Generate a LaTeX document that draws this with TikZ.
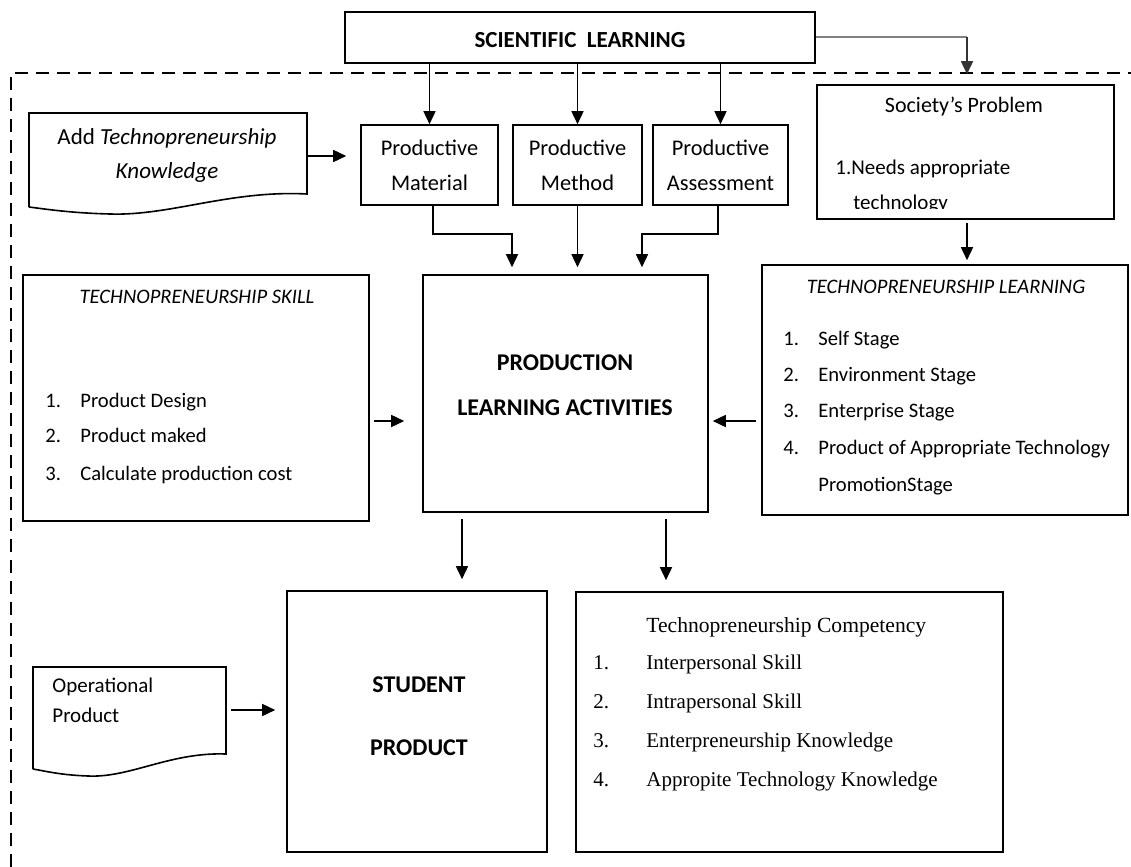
\documentclass[tikz,border=0pt]{standalone}
\usepackage{fontspec}
\setmainfont{Carlito}
\newfontfamily\serifont{Liberation Serif}
\usetikzlibrary{arrows.meta,fit}
\begin{document}
\begin{tikzpicture}[x=0.5pt,y=-0.5pt,
  box/.style={draw,line width=0.8pt,inner sep=0pt},
  arr/.style={-{Triangle[length=6.5pt,width=6pt]},line width=0.8pt},
  lbl/.style={inner sep=0pt},
  itm/.style={inner sep=0pt,anchor=mid west,font=\fontsize{10.3}{12}\selectfont},
  citm/.style={inner sep=0pt,anchor=mid west,font=\serifont\fontsize{10.5}{12}\selectfont},
  head/.style={inner sep=0pt,font=\fontsize{11.2}{17.5}\selectfont,align=center},
  big/.style={inner sep=0pt,font=\bfseries\fontsize{12}{14}\selectfont}]
\useasboundingbox (0,0) rectangle (1131,867);
% dashed frame
\draw[line width=0.8pt,dash pattern=on 6.5pt off 4pt] (11,867) -- (11,73) -- (1131,73);
% scientific learning
\node[box,fit={(345,12)(815,63)}] (sl) {};
\node[big,font=\bfseries\fontsize{11.5}{13}\selectfont] (slt) at (580,40) {SCIENTIFIC\ \ LEARNING};
% productive boxes
\node[box,fit={(361,125)(498,205)}] (mat) {};
\node[head] (matt) at (mat.center) {Productive\\Material};
\node[box,fit={(513,125)(642,205)}] (met) {};
\node[head] (mett) at (met.center) {Productive\\Method};
\node[box,fit={(653,125)(788,205)}] (ass) {};
\node[head] (asst) at (ass.center) {Productive\\Assessment};
% add knowledge document
\draw[line width=0.8pt] (29,207) -- (29,113) -- (307,113) -- (307,194)
  .. controls (230,190) and (170,216) .. (110,214)
  .. controls (70,213) and (45,209) .. (29,207);
\node[fit={(29,113)(307,207)},inner sep=0pt] (add) {};
\node[head,font=\fontsize{11.5}{17}\selectfont] (addt) at (167,155) {Add \textit{Technopreneurship}\\\textit{Knowledge}};
% society
\node[box,fit={(817,85)(1114,219)}] (soc) {};
\node[lbl,font=\fontsize{11}{12}\selectfont] (soct) at (964,107) {Society’s Problem};
\node[itm,font=\fontsize{10.5}{12}\selectfont] (soc1) at (835,170) {1.Needs appropriate};
\begin{scope}
\clip (817,85) rectangle (1114,208);
\node[itm,font=\fontsize{10.5}{12}\selectfont] (soc2) at (853,205) {technology};
\end{scope}
% production learning activities
\node[box,fit={(423,275)(708,512)}] (pla) {};
\node[big] (pla1) at (565,363) {PRODUCTION};
\node[big] (pla2) at (565,408) {LEARNING ACTIVITIES};
% skill
\node[box,fit={(23,275)(369,521)}] (sk) {};
\node[lbl,font=\itshape\fontsize{10.3}{12}\selectfont] (skt) at (197,297) {TECHNOPRENEURSHIP SKILL};
\foreach \n/\t/\y in {1/Product Design/403,2/Product maked/438,3/Calculate production cost/476}{
  \node[itm] (skn\n) at (45,\y) {\n.};
  \node[itm] (ski\n) at (80,\y) {\t};
}
% technopreneurship learning
\node[box,fit={(762,265)(1128,515)}] (tl) {};
\node[lbl,font=\itshape\fontsize{10.3}{12}\selectfont] (tlt) at (946,287) {TECHNOPRENEURSHIP LEARNING};
\foreach \n/\t/\y in {1/Self Stage/341,2/Environment Stage/377,3/Enterprise Stage/413,4/Product of Appropriate Technology/450}{
  \node[itm] (tln\n) at (783,\y) {\n.};
  \node[itm] (tli\n) at (818,\y) {\t};
}
\node[itm] (tli5) at (818,487) {PromotionStage};
% student product
\node[box,fit={(287,591)(547,852)}] (sp) {};
\node[big] (sp1) at (419,685) {STUDENT};
\node[big] (sp2) at (419,748) {PRODUCT};
% competency
\node[box,fit={(576,592)(1003,852)}] (cp) {};
\node[citm,font=\serifont\fontsize{10.8}{12}\selectfont] (cpt) at (646,628) {Technopreneurship Competency};
\foreach \n/\t/\y in {1/Interpersonal Skill/665,2/Intrapersonal Skill/704,3/Enterpreneurship Knowledge/743,4/Appropite Technology Knowledge/782}{
  \node[citm] (cpn\n) at (593,\y) {\n.};
  \node[citm] (cpi\n) at (646,\y) {\t};
}
% operational product document
\draw[line width=0.8pt] (33,769) -- (33,667) -- (226,667) -- (226,754)
  .. controls (170,752) and (130,778) .. (88,776)
  .. controls (60,775) and (45,771) .. (33,769);
\node[fit={(33,667)(226,776)},inner sep=0pt] (op) {};
\node[itm,font=\fontsize{10.5}{12}\selectfont] (op1) at (52,688) {Operational};
\node[itm,font=\fontsize{10.5}{12}\selectfont] (op2) at (52,718) {Product};
% connectors
\draw[arr] (sl.south -| mat.north) -- (mat.north);
\draw[arr] (sl.south -| met.north) -- (met.north);
\draw[arr] (sl.south -| ass.north) -- (ass.north);
\coordinate (g1) at (967,37);
\draw[gray,line width=1pt] (sl.east |- g1) -- (g1);
\draw[arr,black!80] (g1) -- ([yshift=5pt]soc.north -| g1);
\draw[arr] (add.east |- 0,156) -- ([xshift=-7pt]mat.west |- 0,156);
\draw[arr] (433,205) -- (433,234) -- (512,234) -- ([yshift=3.5pt]pla.north -| 512,0);
\draw[arr] (met.south) -- ([yshift=3.5pt]pla.north -| met.south);
\draw[arr] (718,205) -- (718,234) -- (642,234) -- ([yshift=3.5pt]pla.north -| 642,0);
\draw[arr] ([xshift=2pt]sk.east |- 0,421) -- ([xshift=-9pt]pla.west |- 0,421);
\draw[arr] ([xshift=-2.5pt]tl.west |- 0,421) -- ([xshift=2pt]pla.east |- 0,421);
\draw[arr] ([yshift=-1.5pt]soc.south -| 967,0) -- ([yshift=2pt]tl.north -| 967,0);
\draw[arr] ([yshift=-3pt]pla.south -| 462,0) -- ([yshift=5.5pt]sp.north -| 462,0);
\draw[arr] ([yshift=-3pt]pla.south -| 666,0) -- ([yshift=5.5pt]cp.north -| 666,0);
\draw[arr] ([xshift=2.5pt]op.east |- 0,710) -- ([xshift=-5.5pt]sp.west |- 0,710);
\end{tikzpicture}
\end{document}
